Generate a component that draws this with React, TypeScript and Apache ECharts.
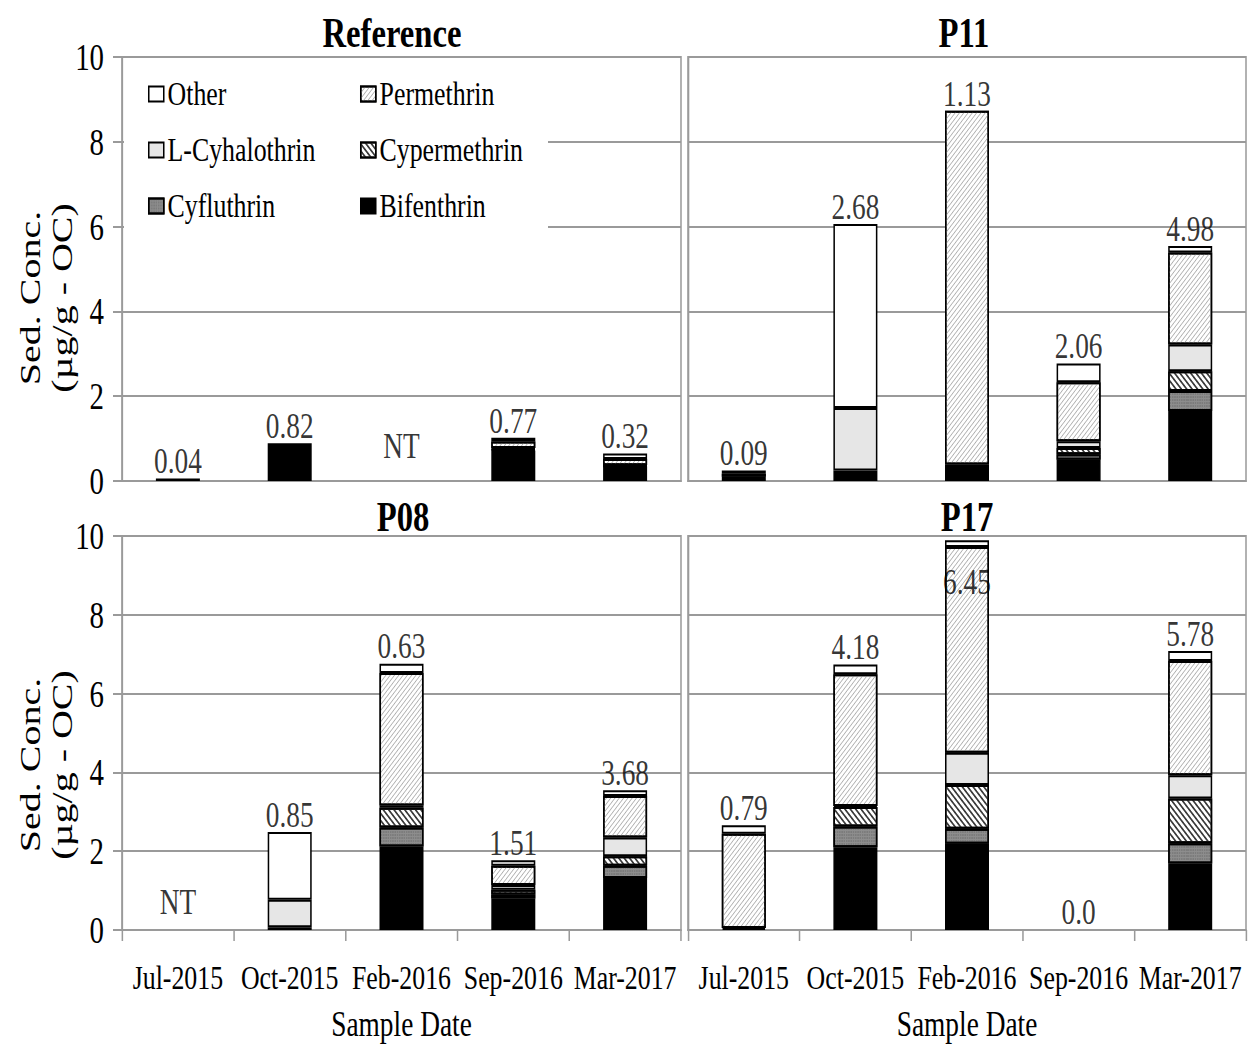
import React, { useEffect, useRef } from "react";
import * as echarts from "echarts";

// ---------------- data ----------------
const categories = ["Jul-2015", "Oct-2015", "Feb-2016", "Sep-2016", "Mar-2017"];
const compounds = ["Bifenthrin", "Cyfluthrin", "Cypermethrin", "L-Cyhalothrin", "Permethrin", "Other"];
const legendCol1 = ["Other", "L-Cyhalothrin", "Cyfluthrin"];
const legendCol2 = ["Permethrin", "Cypermethrin", "Bifenthrin"];
const panelTitles = ["Reference", "P11", "P08", "P17"];
const yTitle = "Sed. Conc.\n(µg/g - OC)";
const xTitle = "Sample Date";

// Reference
const refBifenthrin = [0.06, 0.89, 0, 0.72, 0.34];
const refCyfluthrin = [0, 0, 0, 0.02, 0.01];
const refCypermethrin = [0, 0, 0, 0.02, 0.01];
const refLCyhalothrin = [0, 0, 0, 0.02, 0.01];
const refPermethrin = [0, 0, 0, 0.15, 0.15];
const refOther = [0, 0, 0, 0.09, 0.13];
const refLabels = ["0.04", "0.82", "NT", "0.77", "0.32"];

// P11
const p11Bifenthrin = [0.1, 0.25, 0.39, 0.5, 1.65];
const p11Cyfluthrin = [0, 0, 0, 0.13, 0.47];
const p11Cypermethrin = [0, 0, 0, 0.15, 0.47];
const p11LCyhalothrin = [0, 1.47, 0, 0.16, 0.63];
const p11Permethrin = [0.07, 0, 8.34, 1.39, 2.17];
const p11Other = [0.08, 4.34, 0, 0.44, 0.15];
const p11Labels = ["0.09", "2.68", "1.13", "2.06", "4.98"];

// P08
const p08Bifenthrin = [0, 0.07, 2.12, 0.8, 1.32];
const p08Cyfluthrin = [0, 0, 0.48, 0.1, 0.31];
const p08Cypermethrin = [0, 0, 0.5, 0.12, 0.24];
const p08LCyhalothrin = [0, 0.7, 0.06, 0.12, 0.48];
const p08Permethrin = [0, 0, 3.36, 0.49, 1.05];
const p08Other = [0, 1.72, 0.24, 0.14, 0.15];
const p08Labels = ["NT", "0.85", "0.63", "1.51", "3.68"];

// P17
const p17Bifenthrin = [0.05, 2.1, 2.19, 0, 1.69];
const p17Cyfluthrin = [0, 0.53, 0.38, 0, 0.51];
const p17Cypermethrin = [0, 0.49, 1.11, 0, 1.14];
const p17LCyhalothrin = [0, 0.03, 0.82, 0, 0.59];
const p17Permethrin = [2.39, 3.34, 5.22, 0, 2.9];
const p17Other = [0.22, 0.25, 0.17, 0, 0.25];
const p17Labels = ["0.79", "4.18", "6.45", "0.0", "5.78"];

const yMin = 0;
const yMax = 10;
const yStep = 2;

// ---------------- layout / style ----------------
const S = 0.76; // horizontal squeeze of the whole figure
const VIEW_W = 1249;
const VIEW_H = 1050;
const CW = Math.round(VIEW_W / S);
const sx = (v: number) => v / S;
const FONT = '"Liberation Serif", "Times New Roman", serif';
const GRAY = "#9a9a9a";

const panelBoxes = [
  { l: 122, r: 681, t: 57, b: 481, leftAxis: true, bottomAxis: false },
  { l: 688, r: 1246, t: 57, b: 481, leftAxis: false, bottomAxis: false },
  { l: 122, r: 681, t: 536, b: 930, leftAxis: true, bottomAxis: true },
  { l: 688, r: 1246, t: 536, b: 930, leftAxis: false, bottomAxis: true },
];
const titlePos = [
  { x: 392, y: 32 },
  { x: 964, y: 32 },
  { x: 403, y: 516 },
  { x: 967, y: 516 },
];
const yTitlePos = [
  { x: 46, y: 298 },
  { x: 46, y: 765 },
];
// label placement tweaks (position relative to the stacked total)
const labelPlacement: any[][] = [
  [null, null, { distance: 17 }, null, null],
  [null, null, null, null, null],
  [{ distance: 10 }, null, null, null, null],
  [null, null, { position: "bottom", distance: 24 }, { distance: 0 }, null],
];

const compoundStyle: Record<string, any> = {
  Bifenthrin: { color: "#000000" },
  Cyfluthrin: {
    color: "#8d8d8d",
    decal: { symbol: "circle", symbolSize: 0.6, dashArrayX: [2, 1], dashArrayY: [2, 1], color: "#5a5a5a" },
  },
  Cypermethrin: {
    color: "#ffffff",
    decal: { symbol: "rect", symbolSize: 1, dashArrayX: [1, 0], dashArrayY: [1.6, 2.4], rotation: Math.PI / 4, color: "#3c3c3c" },
  },
  "L-Cyhalothrin": { color: "#e6e6e6" },
  Permethrin: {
    color: "#ffffff",
    decal: { symbol: "rect", symbolSize: 1, dashArrayX: [1, 0], dashArrayY: [1, 3], rotation: -Math.PI / 4, color: "#b0b0b0" },
  },
  Other: { color: "#ffffff" },
};

function buildOption() {
  const panelValues = [
    [refBifenthrin, refCyfluthrin, refCypermethrin, refLCyhalothrin, refPermethrin, refOther],
    [p11Bifenthrin, p11Cyfluthrin, p11Cypermethrin, p11LCyhalothrin, p11Permethrin, p11Other],
    [p08Bifenthrin, p08Cyfluthrin, p08Cypermethrin, p08LCyhalothrin, p08Permethrin, p08Other],
    [p17Bifenthrin, p17Cyfluthrin, p17Cypermethrin, p17LCyhalothrin, p17Permethrin, p17Other],
  ];
  const panelLabels = [refLabels, p11Labels, p08Labels, p17Labels];

  const grid: any[] = [];
  const xAxis: any[] = [];
  const yAxis: any[] = [];
  const series: any[] = [];

  panelBoxes.forEach((b, p) => {
    grid.push({
      left: sx(b.l),
      top: b.t,
      width: sx(b.r - b.l),
      height: b.b - b.t,
      show: true,
      borderColor: GRAY,
      borderWidth: 2,
      backgroundColor: "transparent",
    });
    xAxis.push({
      type: "category",
      gridIndex: p,
      data: categories,
      axisLine: { show: true, lineStyle: { color: GRAY, width: 2 } },
      axisTick: { show: b.bottomAxis, length: 11, lineStyle: { color: GRAY, width: 2 } },
      axisLabel: {
        show: b.bottomAxis,
        interval: 0,
        hideOverlap: false,
        fontFamily: FONT,
        fontSize: 34,
        color: "#000",
        margin: 31,
      },
      name: b.bottomAxis ? xTitle : "",
      nameLocation: "middle",
      nameGap: 76,
      nameTextStyle: { fontFamily: FONT, fontSize: 36, color: "#000" },
      splitLine: { show: false },
    });
    yAxis.push({
      type: "value",
      gridIndex: p,
      min: yMin,
      max: yMax,
      interval: yStep,
      axisLine: { show: true, lineStyle: { color: GRAY, width: 2 } },
      axisTick: { show: b.leftAxis, length: sx(9), lineStyle: { color: GRAY, width: 2 } },
      axisLabel: {
        show: b.leftAxis,
        fontFamily: FONT,
        fontSize: 38,
        color: "#000",
        margin: sx(18),
      },
      splitLine: { show: true, lineStyle: { color: GRAY, width: 2 } },
    });

    const vals = panelValues[p];
    compounds.forEach((c, k) => {
      series.push({
        type: "bar",
        name: c,
        xAxisIndex: p,
        yAxisIndex: p,
        stack: "panel" + p,
        barWidth: sx(44),
        data: vals[k].map((v) => (v > 0 ? v : null)),
        itemStyle: { ...compoundStyle[c], borderColor: "#000", borderWidth: 2 },
        emphasis: { disabled: true },
        z: 2,
      });
    });

    const totals = categories.map((_, j) => {
      let t = 0;
      vals.forEach((arr) => (t += arr[j]));
      return Math.round(t * 100) / 100;
    });
    const labels = panelLabels[p];
    series.push({
      type: "scatter",
      xAxisIndex: p,
      yAxisIndex: p,
      symbolSize: 0,
      silent: true,
      z: 10,
      data: totals.map((t, j) => {
        const place = labelPlacement[p][j];
        return place ? { value: t, label: { ...place } } : { value: t };
      }),
      label: {
        show: true,
        position: "top",
        distance: -1,
        formatter: (params: any) => labels[params.dataIndex],
        fontFamily: FONT,
        fontSize: 36,
        color: "#000",
      },
    });
  });

  const legendCommon = {
    orient: "vertical",
    top: 74,
    padding: 0,
    itemWidth: sx(15),
    itemHeight: 15,
    itemGap: 16,
    icon: "rect",
    selectedMode: false,
    z: 6,
    textStyle: { fontFamily: FONT, fontSize: 34, color: "#000", lineHeight: 40 },
  };

  const graphic: any[] = [
    {
      type: "rect",
      z: 3,
      shape: { x: sx(124), y: 59, width: sx(548) - sx(124), height: 181 },
      style: { fill: "#ffffff" },
      silent: true,
    },
  ];
  panelTitles.forEach((t, i) => {
    graphic.push({
      type: "text",
      z: 10,
      x: sx(titlePos[i].x),
      y: titlePos[i].y,
      style: {
        text: t,
        fontFamily: FONT,
        fontSize: 43,
        fontWeight: "bold",
        fill: "#000",
        align: "center",
        verticalAlign: "middle",
      },
    });
  });
  yTitlePos.forEach((pos) => {
    graphic.push({
      type: "text",
      z: 10,
      x: sx(pos.x),
      y: pos.y,
      rotation: Math.PI / 2,
      style: {
        text: yTitle,
        fontFamily: FONT,
        fontSize: 40,
        lineHeight: sx(32),
        fill: "#000",
        align: "center",
        verticalAlign: "middle",
      },
    });
  });

  return {
    animation: false,
    backgroundColor: "#ffffff",
    textStyle: { fontFamily: FONT },
    grid,
    xAxis,
    yAxis,
    series,
    legend: [
      { ...legendCommon, left: sx(148), data: legendCol1 },
      { ...legendCommon, left: sx(360), data: legendCol2 },
    ],
    graphic,
  };
}

export default function App() {
  const ref = useRef<HTMLDivElement>(null);
  useEffect(() => {
    if (!ref.current) return;
    const chart = echarts.init(ref.current, undefined, { renderer: "svg" });
    chart.setOption(buildOption() as any);
    return () => chart.dispose();
  }, []);
  return (
    <div
      style={{
        position: "fixed",
        left: 0,
        top: 0,
        width: VIEW_W,
        height: VIEW_H,
        overflow: "hidden",
        background: "#ffffff",
      }}
    >
      <div
        ref={ref}
        style={{
          width: CW,
          height: VIEW_H,
          transform: `scaleX(${S})`,
          transformOrigin: "0 0",
        }}
      />
    </div>
  );
}
